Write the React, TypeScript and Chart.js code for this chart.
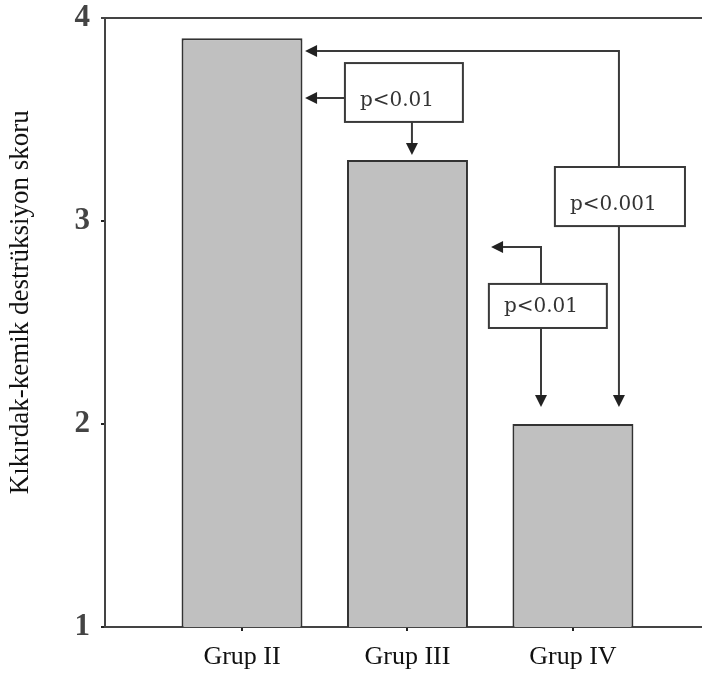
import React, { useEffect, useRef } from 'react';
import { Chart, registerables } from 'chart.js';

Chart.register(...registerables);

// ---- data ----
const categories = ['Grup II', 'Grup III', 'Grup IV'];
const categoryPositions = [1, 2, 3];
const scores = [3.9, 3.3, 2.0];
const yTickValues = [1, 2, 3, 4];
const yAxisTitle = 'Kıkırdak-kemik destrüksiyon skoru';
const pValueLabels = ['p<0.01', 'p<0.001', 'p<0.01'];

// ---- annotation geometry (data units: x = category position, y = score) ----
const pBoxes = [
  { label: pValueLabels[0], x0: 1.622, x1: 2.335, yTop: 3.778, yBottom: 3.488 },
  { label: pValueLabels[1], x0: 2.891, x1: 3.677, yTop: 3.266, yBottom: 2.975 },
  { label: pValueLabels[2], x0: 2.492, x1: 3.205, yTop: 2.690, yBottom: 2.473 },
];
const connectors: number[][][] = [
  [[3.278, 3.266], [3.278, 3.837], [1.381, 3.837]],
  [[3.278, 2.975], [3.278, 2.084]],
  [[1.622, 3.606], [1.381, 3.606]],
  [[2.027, 3.488], [2.027, 3.325]],
  [[2.807, 2.690], [2.807, 2.872], [2.505, 2.872]],
  [[2.807, 2.473], [2.807, 2.084]],
];
// vertical centre of the axis title, in score units
const yTitleCentre = 2.6;

const LINE = '#3a3a3a';
const SERIF = "'Liberation Serif', 'Times New Roman', serif";

const annotationPlugin = {
  id: 'pAnnotations',
  afterDatasetsDraw(chart: any) {
    const { ctx, scales, chartArea } = chart;
    const xs = scales.x;
    const ys = scales.y;
    ctx.save();
    // top frame line
    ctx.strokeStyle = '#444';
    ctx.lineWidth = 2;
    ctx.beginPath();
    ctx.moveTo(chartArea.left - 4, chartArea.top);
    ctx.lineTo(chartArea.right, chartArea.top);
    ctx.stroke();

    // connectors with arrowheads
    const head = 12;
    const half = 6;
    ctx.strokeStyle = LINE;
    ctx.fillStyle = '#222';
    ctx.lineWidth = 2;
    connectors.forEach((pts) => {
      const px = pts.map(([x, y]) => [xs.getPixelForValue(x), ys.getPixelForValue(y)]);
      const n = px.length;
      const [tx, ty] = px[n - 1];
      const [sx, sy] = px[n - 2];
      const dx = tx - sx;
      const dy = ty - sy;
      const len = Math.hypot(dx, dy) || 1;
      const ux = dx / len;
      const uy = dy / len;
      const bx = tx - ux * head;
      const by = ty - uy * head;
      ctx.beginPath();
      ctx.moveTo(px[0][0], px[0][1]);
      for (let i = 1; i < n - 1; i++) ctx.lineTo(px[i][0], px[i][1]);
      ctx.lineTo(bx, by);
      ctx.stroke();
      ctx.beginPath();
      ctx.moveTo(tx, ty);
      ctx.lineTo(bx - uy * half, by + ux * half);
      ctx.lineTo(bx + uy * half, by - ux * half);
      ctx.closePath();
      ctx.fill();
    });

    // boxes with labels
    ctx.font = "20px 'DejaVu Serif', serif";
    ctx.textAlign = 'left';
    ctx.textBaseline = 'alphabetic';
    pBoxes.forEach((b) => {
      const l = xs.getPixelForValue(b.x0);
      const r = xs.getPixelForValue(b.x1);
      const t = ys.getPixelForValue(b.yTop);
      const btm = ys.getPixelForValue(b.yBottom);
      ctx.fillStyle = '#ffffff';
      ctx.fillRect(l, t, r - l, btm - t);
      ctx.strokeStyle = LINE;
      ctx.lineWidth = 2;
      ctx.strokeRect(l, t, r - l, btm - t);
      ctx.fillStyle = '#333';
      ctx.fillText(b.label, l + 15, btm - 16);
    });

    // y axis title
    ctx.save();
    ctx.translate(ys.left + 21, ys.getPixelForValue(yTitleCentre));
    ctx.rotate(-Math.PI / 2);
    ctx.font = `27px ${SERIF}`;
    ctx.fillStyle = '#111';
    ctx.textAlign = 'center';
    ctx.textBaseline = 'middle';
    ctx.fillText(yAxisTitle, 0, 0);
    ctx.restore();

    ctx.restore();
  },
};

export default function App() {
  const canvasRef = useRef<HTMLCanvasElement | null>(null);

  useEffect(() => {
    const canvas = canvasRef.current;
    if (!canvas) return;
    const chart = new Chart(canvas, {
      type: 'bar',
      data: {
        datasets: [
          {
            data: categoryPositions.map((x, i) => ({ x, y: scores[i] })),
            backgroundColor: '#c0c0c0',
            borderColor: '#333333',
            borderWidth: 2,
            borderSkipped: 'start',
            barPercentage: 0.731,
            categoryPercentage: 1,
          },
        ],
      },
      options: {
        responsive: false,
        animation: false,
        devicePixelRatio: 1,
        layout: { padding: { top: 18, right: 0, bottom: 0, left: 0 } },
        plugins: {
          legend: { display: false },
          tooltip: { enabled: false },
        },
        scales: {
          x: {
            type: 'linear',
            min: 0.172,
            max: 3.78,
            offset: false,
            afterBuildTicks: (scale: any) => {
              scale.ticks = categoryPositions.map((v) => ({ value: v }));
            },
            afterFit: (scale: any) => {
              scale.height = 52;
              scale.paddingLeft = 0;
              scale.paddingRight = 0;
            },
            ticks: {
              autoSkip: false,
              maxRotation: 0,
              minRotation: 0,
              padding: 11,
              color: '#111',
              font: { family: SERIF, size: 26 },
              callback: (value: any) => categories[categoryPositions.indexOf(Number(value))] ?? '',
            },
            grid: {
              drawOnChartArea: false,
              offset: false,
              tickLength: 4,
              lineWidth: 2,
              color: '#222',
            },
            border: { display: true, color: '#444', width: 2 },
          },
          y: {
            min: 1,
            max: 4,
            afterBuildTicks: (scale: any) => {
              scale.ticks = yTickValues.map((v) => ({ value: v }));
            },
            afterFit: (scale: any) => {
              scale.width = 105;
              scale.paddingTop = 0;
              scale.paddingBottom = 0;
            },
            ticks: {
              padding: 11,
              color: '#444',
              font: { family: SERIF, size: 31, weight: 'bold' },
            },
            grid: {
              drawOnChartArea: false,
              tickLength: 4,
              lineWidth: 2,
              color: '#222',
            },
            border: { display: true, color: '#444', width: 2 },
            title: { display: false },
          },
        },
      },
      plugins: [annotationPlugin],
    } as any);
    return () => chart.destroy();
  }, []);

  return (
    <div style={{ position: 'absolute', left: 0, top: 0, width: 702, height: 679, background: '#fff' }}>
      <canvas ref={canvasRef} width={702} height={679} style={{ display: 'block' }} />
    </div>
  );
}
